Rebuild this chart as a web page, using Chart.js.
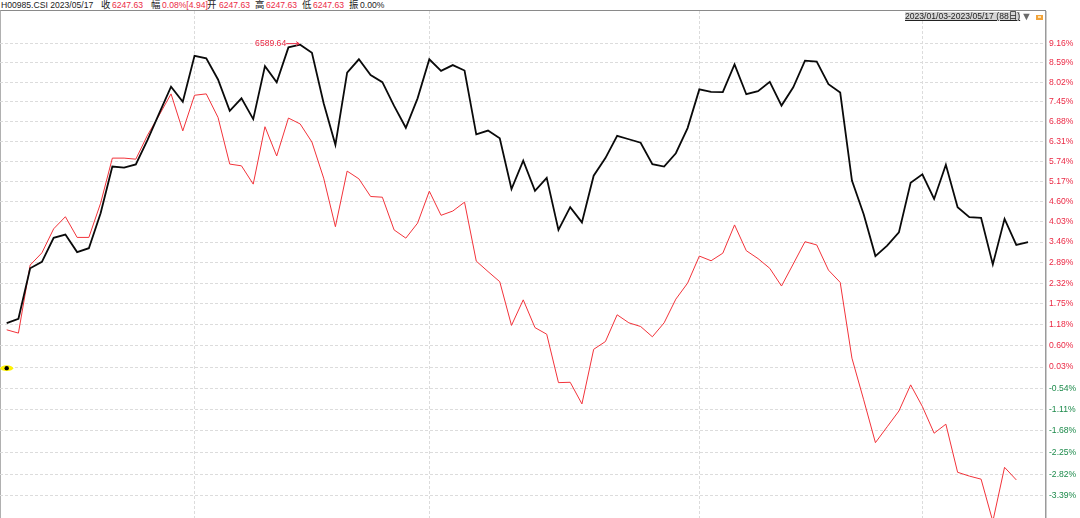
<!DOCTYPE html>
<html lang="zh">
<head>
<meta charset="UTF-8">
<title>H00985.CSI</title>
<script src="https://cdn.jsdelivr.net/npm/chart.js"></script>
<style>
  body { margin: 0; background: #fff; width: 1080px; height: 518px; overflow: hidden; position: relative;
         font-family: "Liberation Sans", Arial, "Noto Sans CJK SC", sans-serif; }
  .hd { position: absolute; top: 0; font-size: 8.6px; line-height: 10px; color: #222; white-space: nowrap; }
  .cj { font-family: "Noto Sans CJK SC", sans-serif; font-size: 9.4px; line-height: 10px; top: -1px; }
  .up { color: #eb2a45; }
  #frame { position: absolute; left: 0; top: 10px; width: 1046px; height: 508px;
           border-top: 1px solid #8a8a8a; border-left: 1px solid #b0b0b0; box-sizing: border-box; }
  #range { position: absolute; left: 905px; top: 12px; font-size: 8.6px; line-height: 9px; color: #222;
           background: #d6d6d6; text-decoration: underline; white-space: nowrap; }
  #tri { position: absolute; left: 1021px; top: 10px; font-size: 11px; line-height: 12px; color: #6a6a6a; }
  #ico { position: absolute; left: 1036px; top: 15px; width: 7px; height: 5px; background: #f2a33a; }
  #ico::after { content: ""; position: absolute; left: 2px; top: 1px; width: 3px; height: 2px; background: #fde2b0; }
  #wrap { position: absolute; left: 0; top: 11px; width: 1080px; height: 507px; }
</style>
</head>
<body>
  <span class="hd" style="left:1px">H00985.CSI 2023/05/17</span>
  <span class="hd cj" style="left:101px">收</span>
  <span class="hd up" style="left:112px">6247.63</span>
  <span class="hd cj" style="left:151px">幅</span>
  <span class="hd up" style="left:162px">0.08%[4.94]</span>
  <span class="hd cj" style="left:207px">开</span>
  <span class="hd up" style="left:219px">6247.63</span>
  <span class="hd cj" style="left:255px">高</span>
  <span class="hd up" style="left:266px">6247.63</span>
  <span class="hd cj" style="left:302px">低</span>
  <span class="hd up" style="left:313px">6247.63</span>
  <span class="hd cj" style="left:349px">振</span>
  <span class="hd" style="left:360px">0.00%</span>

  <div id="frame"></div>
  <div id="wrap"><canvas id="chart"></canvas></div>

  <span id="range">2023/01/03-2023/05/17 (88日)</span>
  <span id="tri">▼</span>
  <span id="ico"></span>

<script>
// trading days 2023, per month
const janDays = [3,4,5,6,9,10,11,12,13,16,17,18,19,20,30,31];
const febDays = [1,2,3,6,7,8,9,10,13,14,15,16,17,20,21,22,23,24,27,28];
const marDays = [1,2,3,6,7,8,9,10,13,14,15,16,17,20,21,22,23,24,27,28,29,30,31];
const aprDays = [3,4,6,7,10,11,12,13,14,17,18,19,20,21,24,25,26,27,28];
const mayDays = [4,5,8,9,10,11,12,15,16,17];

// cumulative change in % (black = H00985.CSI, red = comparison line)
const blackPct = [1.22,1.34,2.73,2.91,3.58,3.67,3.18,3.29,4.27,5.59,
                  5.56,5.65,6.35,7.12,7.89,7.45,8.79,8.72,8.10,7.19,
                  7.55,6.95,8.49,8.02,9.04,9.12,8.88,7.41,6.21,8.30,
                  8.69,8.23,8.02,7.33,6.70,7.55,8.69,8.35,8.52,8.36,
                  6.51,6.62,6.40,4.95,5.76,4.90,5.27,3.80,4.44,4.01,
                  5.33,5.83,6.47,6.37,6.27,5.66,5.59,5.97,6.69,7.81,
                  7.74,7.73,8.54,7.67,7.76,8.03,7.34,7.87,8.65,8.62,
                  7.96,7.72,5.19,4.24,3.07,3.36,3.73,5.13,5.37,4.67,
                  5.64,4.44,4.16,4.14,2.84,4.11,3.38,3.46];
const redPct = [1.04,0.95,2.82,3.16,3.83,4.17,3.59,3.59,4.55,5.83,
                5.83,5.80,6.49,7.07,7.68,6.61,7.64,7.68,7.00,5.66,
                5.61,5.09,6.73,5.89,6.98,6.81,6.29,5.26,3.89,5.46,
                5.24,4.74,4.72,3.80,3.57,3.99,4.89,4.21,4.33,4.58,
                2.93,2.64,2.36,1.16,1.86,1.10,0.92,-0.39,-0.38,-0.96,
                0.51,0.72,1.45,1.23,1.13,0.85,1.23,1.88,2.32,3.07,
                2.94,3.15,3.94,3.22,3.00,2.73,2.24,2.85,3.47,3.38,
                2.68,2.34,0.27,-0.85,-1.99,-1.57,-1.15,-0.45,-1.03,-1.74,
                -1.50,-2.77,-2.87,-2.95,-4.05,-2.64,-2.97];

const tickPct = [9.16,8.59,8.02,7.45,6.88,6.31,5.74,5.17,4.60,4.03,3.46,2.89,
                 2.32,1.75,1.18,0.60,0.03,-0.54,-1.11,-1.68,-2.25,-2.82,-3.39];
const basePct = 0;          // yellow start marker
const maxLabel = '6589.64'; // high of the period

const BASE = 100; // chart uses a log price scale, level = 100 + pct
const RED = '#eb2a45';
const GREEN = '#1d8a4b';

const months = [janDays, febDays, marDays, aprDays, mayDays];
const dates = [];
months.forEach((days, m) => days.forEach(d =>
  dates.push('2023/' + String(m + 1).padStart(2, '0') + '/' + String(d).padStart(2, '0'))));
// first trading day of every month after the first -> vertical lines
const monthStarts = dates.map((d, i) => i).filter(i => i > 0 && dates[i].slice(5, 7) !== dates[i - 1].slice(5, 7));

const toPoints = arr => arr.map((v, i) => ({ x: i, y: BASE + v }));

const marks = {
  id: 'marks',
  afterDatasetsDraw(chart) {
    const { ctx, scales: { x, y } } = chart;
    ctx.save();
    // start marker
    const bx = x.getPixelForValue(0), by = y.getPixelForValue(BASE + basePct);
    ctx.fillStyle = '#fff200';
    ctx.beginPath(); ctx.ellipse(bx, by, 6.5, 2.8, 0, 0, Math.PI * 2); ctx.fill();
    ctx.fillStyle = '#000';
    ctx.beginPath(); ctx.arc(bx, by, 2.2, 0, Math.PI * 2); ctx.fill();

    // max annotation
    let im = 0;
    blackPct.forEach((v, i) => { if (v > blackPct[im]) im = i; });
    const px = x.getPixelForValue(im), py = y.getPixelForValue(BASE + blackPct[im]) - 1;
    ctx.strokeStyle = RED; ctx.fillStyle = RED; ctx.lineWidth = 1;
    ctx.beginPath(); ctx.moveTo(px - 14, py); ctx.lineTo(px - 1, py); ctx.stroke();
    ctx.beginPath(); ctx.moveTo(px - 4, py - 2); ctx.lineTo(px - 1, py); ctx.lineTo(px - 4, py + 2); ctx.stroke();
    ctx.font = '8.6px "Liberation Sans", Arial, sans-serif';
    ctx.textAlign = 'right'; ctx.textBaseline = 'middle';
    ctx.fillText(maxLabel, px - 14, py);
    ctx.restore();
  }
};

new Chart(document.getElementById('chart'), {
  type: 'line',
  data: {
    datasets: [
      { label: 'H00985.CSI', data: toPoints(blackPct), borderColor: '#0a0a0a', borderWidth: 1.8,
        pointRadius: 0, tension: 0 },
      { label: 'compare', data: toPoints(redPct), borderColor: '#f2333a', borderWidth: 1,
        pointRadius: 0, tension: 0 }
    ]
  },
  options: {
    responsive: true,
    maintainAspectRatio: false,
    animation: false,
    layout: { padding: 0 },
    plugins: { legend: { display: false }, tooltip: { enabled: false } },
    scales: {
      x: {
        type: 'linear', min: -0.57, max: 88.53,
        ticks: { display: false },
        grid: { color: '#dcdcdc', drawTicks: false },
        border: { display: false, dash: [3, 2] },
        afterBuildTicks: s => { s.ticks = monthStarts.map(v => ({ value: v })); },
        afterFit: s => { s.height = 0; s.paddingLeft = 0; s.paddingRight = 0; }
      },
      y: {
        type: 'logarithmic', position: 'right',
        min: 96.038, max: 110.115,
        grid: { color: '#dcdcdc', drawTicks: false },
        border: { display: true, color: '#9a9a9a', width: 1.5, dash: [3, 2] },
        ticks: {
          padding: 3,
          font: { family: '"Liberation Sans", Arial, sans-serif', size: 8.6 },
          color: c => (c.tick && c.tick.value >= BASE ? RED : GREEN),
          callback: v => (v - BASE).toFixed(2) + '%'
        },
        afterBuildTicks: s => { s.ticks = tickPct.map(t => ({ value: BASE + t })); },
        afterFit: s => { s.width = 34; s.paddingTop = 0; s.paddingBottom = 0; }
      }
    }
  },
  plugins: [marks]
});
</script>
</body>
</html>
